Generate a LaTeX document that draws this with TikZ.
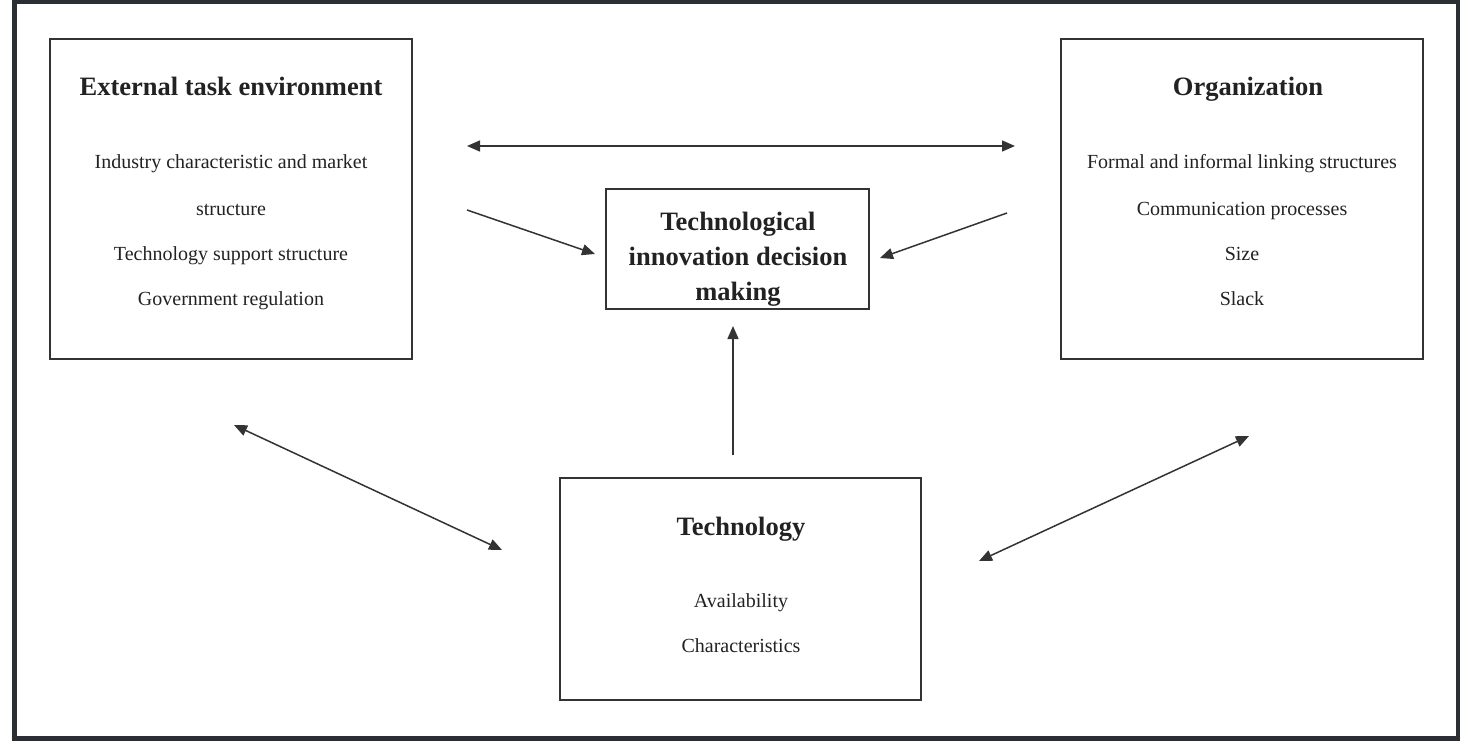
\documentclass[tikz,border=0pt]{standalone}
\usepackage{fontspec}
\setmainfont{Liberation Serif}
\usetikzlibrary{arrows.meta}
\definecolor{frame}{HTML}{2B2E34}
\definecolor{ink}{HTML}{222222}
\definecolor{boxline}{HTML}{333333}
\tikzset{
  box/.style={draw=boxline, line width=1.3pt},
  ttl/.style={font=\fontsize{26.5}{30}\selectfont\bfseries, text=ink, inner sep=0pt, anchor=base},
  txt/.style={font=\fontsize{20}{24}\selectfont, text=ink, inner sep=0pt, anchor=base},
  arr/.style={draw=boxline, line width=1.5pt, -{Triangle[length=13pt,width=11pt]}},
  darr/.style={draw=boxline, line width=1.5pt, {Triangle[length=13pt,width=11pt]}-{Triangle[length=13pt,width=11pt]}}
}
\begin{document}
\begin{tikzpicture}[x=1pt,y=-1pt]
\useasboundingbox (0,0) rectangle (1460,741);
\draw[frame, line width=4.5pt] (14.5,1.5) rectangle (1457.8,738.5);
% boxes
\node[box, minimum width=362pt, minimum height=320pt, inner sep=0pt] (ext) at (231,199) {};
\node[box, minimum width=362pt, minimum height=320pt, inner sep=0pt] (org) at (1242,199) {};
\node[box, minimum width=263pt, minimum height=120pt, inner sep=0pt] (tid) at (737.5,249) {};
\node[box, minimum width=361pt, minimum height=222pt, inner sep=0pt] (tech) at (740.5,589) {};
% texts (base lines)
\node[ttl] (extT) at (231,96) {External task environment};
\node[txt] (ext1) at (231,169) {Industry characteristic and market};
\node[txt] (ext2) at (231,215) {structure};
\node[txt] (ext3) at (231,260) {Technology support structure};
\node[txt] (ext4) at (231,305) {Government regulation};
\node[ttl] (orgT) at (1248,96) {Organization};
\node[txt] (org1) at (1242,169) {Formal and informal linking structures};
\node[txt] (org2) at (1242,215) {Communication processes};
\node[txt] (org3) at (1242,260) {Size};
\node[txt] (org4) at (1242,305) {Slack};
\node[ttl] (tid1) at (738,230) {Technological};
\node[ttl] (tid2) at (738,265) {innovation decision};
\node[ttl] (tid3) at (738,300) {making};
\node[ttl] (techT) at (741,535) {Technology};
\node[txt] (tech1) at (741,607) {Availability};
\node[txt] (tech2) at (741,652) {Characteristics};
% connector end points
\coordinate (hA) at (467,146);
\coordinate (hB) at (1015,146);
\coordinate (lA) at (467,210);
\coordinate (lB) at (595,254);
\coordinate (rA) at (1007,213);
\coordinate (rB) at (880,258);
\coordinate (vA) at (733,455);
\coordinate (vB) at (733,326);
\coordinate (blA) at (234,425);
\coordinate (blB) at (502,550);
\coordinate (brA) at (979,561);
\coordinate (brB) at (1249,436);
\draw[darr] (hA) -- (hB);
\draw[arr] (lA) -- (lB);
\draw[arr] (rA) -- (rB);
\draw[arr] (vA) -- (vB);
\draw[darr] (blA) -- (blB);
\draw[darr] (brA) -- (brB);
\end{tikzpicture}
\end{document}
